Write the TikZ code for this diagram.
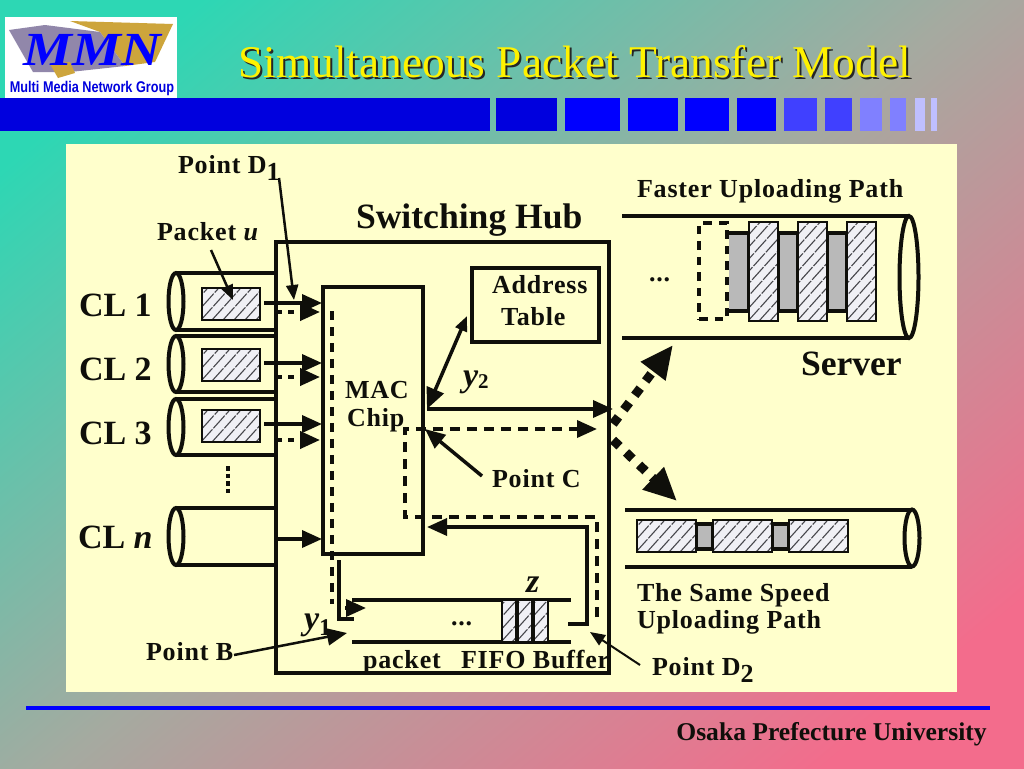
\documentclass[tikz,border=0pt]{standalone}
\usepackage{fontspec}
\setmainfont{Liberation Serif}
\newfontfamily\logofont{Liberation Sans}
\newfontfamily\labfont[LetterSpace=3.2]{Liberation Serif}
\usetikzlibrary{arrows.meta,shapes.geometric}
\definecolor{bgA}{RGB}{45,215,180}
\definecolor{bgM}{RGB}{165,170,160}
\definecolor{bgB}{RGB}{243,108,140}
\definecolor{panel}{RGB}{255,255,204}
\definecolor{ink}{RGB}{15,15,10}
\definecolor{hatchfill}{RGB}{240,240,245}
\definecolor{hatchline}{RGB}{70,70,75}
\definecolor{cellgray}{RGB}{185,185,185}
\definecolor{navy}{RGB}{0,0,222}
\definecolor{gold}{RGB}{205,165,60}
\definecolor{slate}{RGB}{145,135,170}
\pgfdeclarehorizontalshading{slidebg}{100bp}{color(0bp)=(bgA); color(22bp)=(bgA); color(50bp)=(bgM); color(78bp)=(bgB); color(100bp)=(bgB)}
\newcommand{\fs}[1]{\fontsize{\dimexpr #1\dimexpr 0.569pt\relax\relax}{\dimexpr #1\dimexpr 0.569pt\relax\relax}\selectfont}
\tikzset{
 x=0.02cm,y=-0.02cm,
 wire/.style={line width=0.07cm,draw=ink},
 thinwire/.style={line width=0.05cm,draw=ink},
 frame/.style={draw=ink,line width=0.08cm,fill=panel,inner sep=0,outer sep=0},
 dotwire/.style={line width=0.08cm,draw=ink,dash pattern=on 0.12cm off 0.12cm},
 dashwire/.style={line width=0.07cm,draw=ink,dash pattern=on 0.2cm off 0.14cm},
 bigdot/.style={line width=0.18cm,draw=ink,dash pattern=on 0.18cm off 0.18cm},
 tip/.style={-{Triangle[length=0.4cm,width=0.34cm,color=ink]}},
 smalltip/.style={-{Triangle[length=0.3cm,width=0.24cm,color=ink]}},
 bothtip/.style={{Triangle[length=0.42cm,width=0.36cm,color=ink]}-{Triangle[length=0.3cm,width=0.24cm,color=ink]}},
 bigtip/.style={-{Triangle[length=0.66cm,width=0.58cm,color=ink]}},
 tube/.style={draw=ink,line width=0.08cm,fill=panel,ellipse,inner sep=0,outer sep=0},
 lab/.style={anchor=base west,inner sep=0,outer sep=0,text=ink,font=\labfont\bfseries\fs{26}},
 big/.style={anchor=base west,inner sep=0,outer sep=0,text=ink,font=\bfseries\fs{34}},
 bigger/.style={anchor=base west,inner sep=0,outer sep=0,text=ink,font=\bfseries\fs{35.6}},
 hatched/.style={draw=ink,line width=0.055cm,fill=hatchfill,inner sep=0,outer sep=0,
   path picture={\foreach \d in {-100,-89,...,80}{
     \draw[hatchline,line width=0.022cm,dash pattern=on 0.34cm off 0.03cm] ([xshift=\d*0.02cm]path picture bounding box.south west) -- ++(48:4cm);}}},
 grayed/.style={draw=ink,line width=0.07cm,fill=cellgray,inner sep=0,outer sep=0},
}
\newcommand{\boxat}[6]{\node[#1,minimum width={(#5-#3)*0.02cm},minimum height={(#6-#4)*0.02cm}] (#2) at ({(#3+#5)/2},{(#4+#6)/2}) {};}
\begin{document}
\begin{tikzpicture}
\useasboundingbox (0,0) rectangle (1024,768);
\shade[shading=slidebg,shading angle=-50] (0,0) rectangle (1024,768);
% logo
\fill[white] (5,17) rectangle (177,98);
\fill[gold] (70,21) -- (173,24) -- (155,62) -- (125,66) -- (100,32) -- cycle;
\fill[slate] (9,30) -- (45,25) -- (100,32) -- (125,66) -- (70,72) -- (33,72) -- cycle;
\fill[gold] (50,64) -- (70,62) -- (75,73) -- (58,78) -- cycle;
\node[inner sep=0,text=blue,font=\itshape\bfseries\fs{50}] (logoname) at (92,50) {\scalebox{1.1}[0.95]{MMN}};
\node[inner sep=0,text=navy,font=\logofont\bfseries\fs{13.5}] (logotext) at (92,88) {\scalebox{0.94}[1.15]{Multi Media Network Group}};
% banner
\fill[navy] (0,98) rectangle (490,131);
\foreach \a/\b/\c in {496/557/navy,565/620/blue,628/678/blue,685/729/blue,737/776/blue,784/817/blue!75!white,825/852/blue!75!white,860/882/blue!50!white,890/906/blue!50!white,915/925/blue!25!white,931/937/blue!25!white}
  \fill[\c] (\a,98) rectangle (\b,131);
% title
\node[anchor=base west,inner sep=0,text=black!85,font=\fs{45.4}] (titleshadow) at (240,79.5) {Simultaneous Packet Transfer Model};
\node[anchor=base west,inner sep=0,text=yellow,font=\fs{45.4}] (title) at (238,77.5) {Simultaneous Packet Transfer Model};
% panel
\fill[panel] (66,144) rectangle (957,692);
% tubes to clients
\foreach \n/\t/\b in {one/273/330,two/336/392,three/399/455,four/508/565}{
  \draw[line width=0.08cm,draw=ink] (176,\t) -- (276,\t) (176,\b) -- (276,\b);
  \node[tube,minimum width=0.3cm,minimum height={(\b-\t)*0.02cm}] (end\n) at (176,{(\t+\b)/2}) {};
}
% hub
\boxat{draw=ink,line width=0.08cm,inner sep=0,outer sep=0}{hub}{276}{242}{609}{673}
\boxat{frame}{mac}{323}{287}{423}{554}
\boxat{frame}{table}{472}{268}{599}{342}
% client packets
\boxat{hatched}{pa}{202}{288}{260}{320}
\boxat{hatched}{pb}{202}{349}{260}{381}
\boxat{hatched}{pc}{202}{410}{260}{442}
% inputs
\coordinate (sa) at (264,303); \coordinate (ea) at (322,303);
\coordinate (sb) at (264,363); \coordinate (eb) at (322,363);
\coordinate (sc) at (264,424); \coordinate (ec) at (322,424);
\coordinate (sd) at (276,539); \coordinate (ed) at (322,539);
\foreach \n in {a,b,c,d} \draw[wire,tip] (s\n) -- (e\n);
\coordinate (da) at (276,312); \coordinate (fa) at (320,312);
\coordinate (db) at (276,377); \coordinate (fb) at (320,377);
\coordinate (dc) at (276,440); \coordinate (fc) at (320,440);
\foreach \n in {a,b,c} \draw[dotwire,tip] (d\n) -- (f\n);
\coordinate (vd) at (228,466); \coordinate (ve) at (228,495);
\draw[line width=0.07cm,draw=ink,dash pattern=on 0.09cm off 0.06cm] (vd) -- (ve);
% MAC internals
\coordinate (ma) at (332,311); \coordinate (mb) at (332,604);
\draw[dotwire,dash pattern=on 0.18cm off 0.14cm] (ma) -- (mb);
\coordinate (ba) at (339,560); \coordinate (bb) at (339,619); \coordinate (bc) at (354,619);
\draw[line width=0.07cm,draw=ink] (ba) -- (bb) -- (bc);
\coordinate (ga) at (345,608); \coordinate (gb) at (366,608);
\draw[wire,tip] (ga) -- (gb);
% FIFO
\coordinate (qa) at (352,600); \coordinate (qb) at (571,600);
\coordinate (qc) at (352,642); \coordinate (qd) at (571,642);
\draw[line width=0.08cm,draw=ink] (qa) -- (qb) (qc) -- (qd);
\boxat{hatched}{ca}{502}{600}{517}{642}
\boxat{hatched}{cb}{517}{600}{533}{642}
\boxat{hatched}{cc}{533}{600}{548}{642}
\draw[ink,line width=0.08cm] (ca.north east) -- (ca.south east) (cb.north east) -- (cb.south east);
\node[lab] (fifodots) at (451,625) {...};
% return
\coordinate (ra) at (568,624); \coordinate (rb) at (587,624); \coordinate (rc) at (587,527); \coordinate (rd) at (427,527);
\draw[wire,tip] (ra) -- (rb) -- (rc) -- (rd);
\coordinate (ha) at (597,617); \coordinate (hb) at (597,517); \coordinate (hc) at (405,517); \coordinate (hd) at (405,429); \coordinate (he) at (597,429);
\draw[dashwire,tip] (ha) -- (hb) -- (hc) -- (hd) -- (he);
\coordinate (oa) at (427,409); \coordinate (ob) at (613,409);
\draw[wire,tip] (oa) -- (ob);
\coordinate (ya) at (427,409); \coordinate (yb) at (467,316);
\draw[wire,bothtip] (ya) -- (yb);
% big split arrows
\coordinate (xa) at (613,424); \coordinate (xb) at (673,345);
\coordinate (xc) at (613,440); \coordinate (xd) at (677,501);
\draw[bigdot,bigtip] (xa) -- (xb);
\draw[bigdot,bigtip] (xc) -- (xd);
% server tube
\coordinate (ta) at (622,216); \coordinate (tb) at (909,216); \coordinate (tc) at (622,338); \coordinate (td) at (909,338);
\draw[line width=0.08cm,draw=ink] (ta) -- (tb) (tc) -- (td);
\node[tube,minimum width=0.38cm,minimum height=2.44cm] (serverend) at (909,277) {};
\boxat{grayed}{ga1}{727}{233}{749}{311}
\boxat{grayed}{ga2}{778}{233}{798}{311}
\boxat{grayed}{ga3}{827}{233}{847}{311}
\boxat{hatched}{ha1}{749}{222}{778}{321}
\boxat{hatched}{ha2}{798}{222}{827}{321}
\boxat{hatched}{ha3}{847}{222}{876}{321}
\draw[panel,line width=0.08cm] (ga1.north west) -- (ga1.south west);
\boxat{draw=ink,line width=0.08cm,dash pattern=on 0.17cm off 0.14cm,inner sep=0,outer sep=0}{ghost}{699}{223}{727}{319}
\node[lab] (serverdots) at (649,281) {...};
% lower tube
\coordinate (ua) at (625,510); \coordinate (ub) at (912,510); \coordinate (uc) at (625,567); \coordinate (ud) at (912,567);
\draw[line width=0.08cm,draw=ink] (ua) -- (ub) (uc) -- (ud);
\node[tube,minimum width=0.3cm,minimum height=1.14cm] (lowerend) at (912,538) {};
\boxat{grayed}{gb1}{696}{524}{713}{549}
\boxat{grayed}{gb2}{772}{524}{789}{549}
\boxat{hatched}{hb1}{637}{520}{696}{552}
\boxat{hatched}{hb2}{713}{520}{772}{552}
\boxat{hatched}{hb3}{789}{520}{848}{552}
% labels
\node[lab] (d1) at (178,173) {Point D\raisebox{-0.28em}{1}};
\node[lab] (pku) at (157,240) {Packet \textit{u}};
\node[bigger] (hubl) at (356,228) {Switching Hub};
\node[big] (cl1) at (79,316) {CL 1};
\node[big] (cl2) at (79,380) {CL 2};
\node[big] (cl3) at (79,444) {CL 3};
\node[big] (cln) at (78,548) {CL \textit{n}};
\node[lab] (addr) at (492,293) {Address};
\node[lab] (tab) at (501,325) {Table};
\node[lab] (mac1) at (345,398) {MAC};
\node[lab] (mac2) at (347,426) {Chip};
\node[big] (y2a) at (463,386) {\textit{y}\fs{21}\raisebox{-0.1em}{2}};
\node[lab] (pc) at (492,487) {Point C};
\node[big] (zl) at (526,592) {\textit{z}};
\node[big] (y1a) at (304,629) {\textit{y}\fs{24}\raisebox{-0.28em}{1}};
\node[lab] (pb) at (146,660) {Point B};
\node[lab] (pkt) at (363,668) {packet};
\node[lab] (fifo) at (461,668) {FIFO Buffer};
\node[lab] (d2) at (652,675) {Point D\raisebox{-0.28em}{2}};
\node[lab] (fast) at (637,197) {Faster Uploading Path};
\node[bigger] (srv) at (801,375) {Server};
\node[lab] (same) at (637,601) {The Same Speed};
\node[lab] (up) at (637,628) {Uploading Path};
% pointers
\coordinate (pd1) at (279,178); \coordinate (td1) at (294,300);
\draw[thinwire,smalltip] (pd1) -- (td1);
\coordinate (pu) at (211,250); \coordinate (tu) at (233,300);
\draw[thinwire,smalltip] (pu) -- (tu);
\coordinate (pcs) at (482,476); \coordinate (tcs) at (425,429);
\draw[wire,tip] (pcs) -- (tcs);
\coordinate (pbs) at (234,655); \coordinate (tbs) at (347,633);
\draw[thinwire,tip] (pbs) -- (tbs);
\coordinate (pd2) at (640,665); \coordinate (td2) at (590,632);
\draw[line width=0.04cm,draw=ink,smalltip] (pd2) -- (td2);
% footer
\coordinate (la) at (26,708); \coordinate (lb) at (990,708);
\draw[line width=0.09cm,draw=blue] (la) -- (lb);
\node[anchor=base west,inner sep=0,text=ink,font=\bfseries\fs{25.6}] (univ) at (676,740) {Osaka Prefecture University};
\end{tikzpicture}
\end{document}
